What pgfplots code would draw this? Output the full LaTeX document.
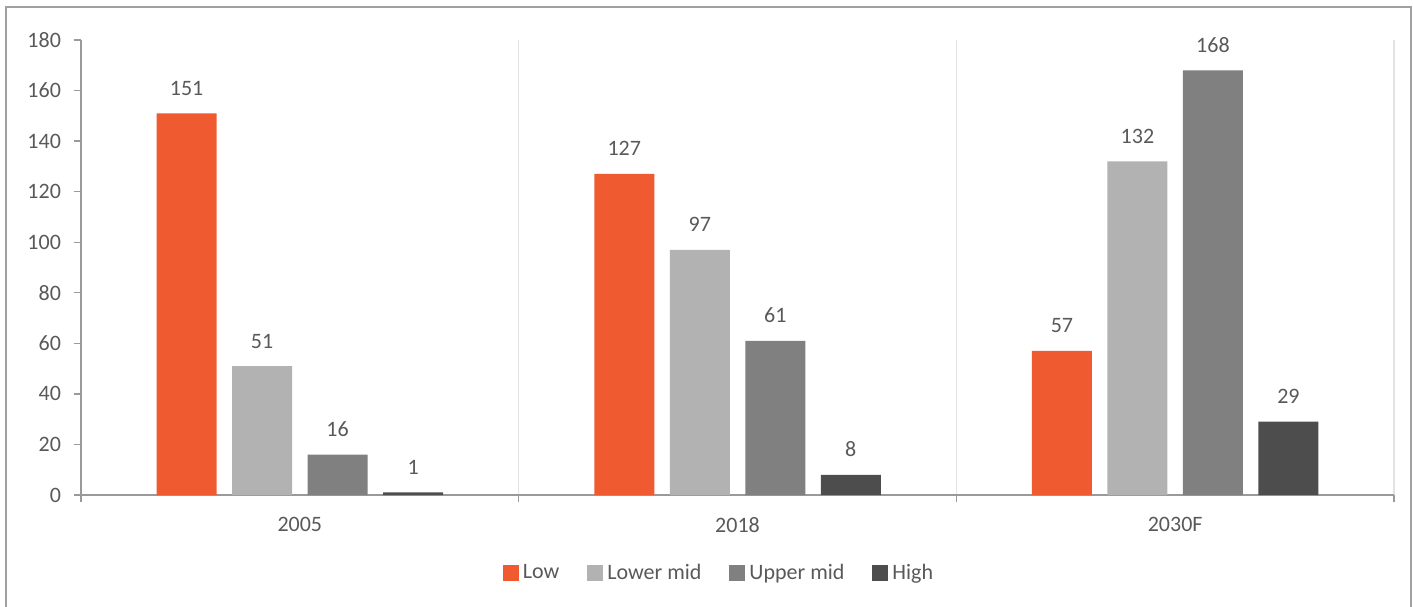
\documentclass[border=0pt]{standalone}
\usepackage{pgfplots}
\pgfplotsset{compat=1.18}
\usepackage{fontspec}
\setmainfont{Carlito}
\definecolor{lowc}{HTML}{F05A30}
\definecolor{lmidc}{HTML}{B2B2B2}
\definecolor{umidc}{HTML}{808080}
\definecolor{highc}{HTML}{4D4D4D}
\definecolor{txtc}{HTML}{595959}
\definecolor{axisc}{HTML}{9A9A9A}
\definecolor{gridc}{HTML}{E3E3E3}
\definecolor{framec}{HTML}{A0A0A0}
\begin{document}
\begin{tikzpicture}[x=1pt,y=1pt]
\path[use as bounding box] (-40.5,-55.5) rectangle (666,247.5);
\draw[framec, line width=0.7pt] (-37.5,-70) rectangle (665,244);
\begin{axis}[
  at={(0,0)}, anchor=south west,
  scale only axis, width=656.5pt, height=227.5pt,
  xmin=-0.5, xmax=2.5, ymin=0, ymax=180,
  ybar=7.75pt, bar width=30pt,
  axis x line*=bottom, axis y line*=left,
  axis line style={axisc, line width=0.7pt, -},
  xtick={-0.5,0.5,1.5,2.5}, xticklabels={},
  xmajorgrids, major grid style={gridc, line width=0.6pt},
  extra x ticks={0,1,2}, extra x tick labels={2005,2018,2030F},
  extra x tick style={major tick length=0pt, grid=none,
    xticklabel style={yshift=-7.5pt}},
  ytick={0,20,...,180},
  yticklabel style={xshift=-3pt},
  tick align=outside, major tick length=3.5pt,
  tick style={axisc, line width=0.7pt},
  ticklabel style={font=\fontsize{11}{13}\selectfont, text=txtc},
  /pgf/number format/assume math mode=true,
  nodes near coords,
  every node near coord/.append style={font=\fontsize{11}{13}\selectfont, text=txtc, anchor=base, yshift=9pt, inner sep=0pt},
  legend style={at={(0.4867,-0.1714)}, anchor=center, draw=none, fill=none,
    legend columns=-1, font=\fontsize{11}{13}\selectfont, text=txtc,
    /tikz/every even column/.append style={column sep=12pt}},
  legend image code/.code={\fill[#1] (0pt,-4pt) rectangle (8pt,4pt);},
]
\addplot[fill=lowc, draw=none] coordinates {(0,151) (1,127) (2,57)};
\addplot[fill=lmidc, draw=none] coordinates {(0,51) (1,97) (2,132)};
\addplot[fill=umidc, draw=none] coordinates {(0,16) (1,61) (2,168)};
\addplot[fill=highc, draw=none] coordinates {(0,1) (1,8) (2,29)};
\legend{Low, Lower mid, Upper mid, High}
\end{axis}
\end{tikzpicture}
\end{document}
